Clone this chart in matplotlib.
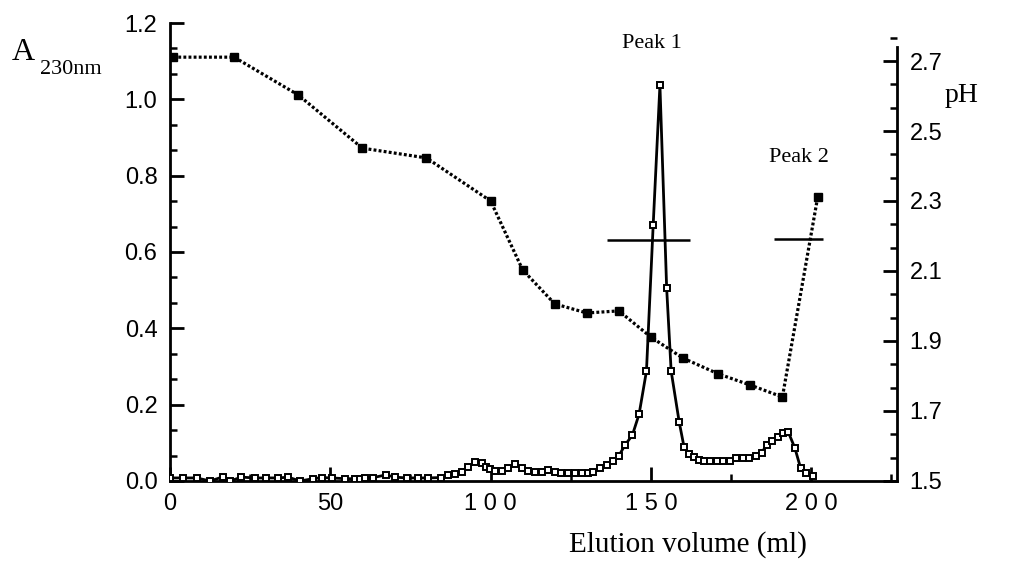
import matplotlib.pyplot as plt
from matplotlib.ticker import MultipleLocator, AutoMinorLocator

# absorbance at 230 nm (open squares, solid line)
vol_abs = [0, 4.2, 8.3, 12.5, 16.6, 18.7, 22.3, 26.5, 30.1, 33.8, 36.9, 40.5,
           44.7, 47.3, 50.4, 54.6, 57.7, 59.2, 60.8, 63.4, 67.4, 70.2, 73.8,
           77.4, 80.5, 84.5, 86.8, 88.9, 91.0, 93.0, 95.1, 97.2, 98.7, 99.8,
           101.3, 103.4, 105.5, 107.6, 109.7, 111.7, 113.8, 115.9, 118.0,
           120.0, 122.1, 124.2, 126.3, 128.4, 130.4, 132.0, 134.1, 136.2,
           138.2, 140.0, 141.9, 144.2, 146.3, 148.6, 150.7, 152.8, 154.9,
           156.3, 158.8, 160.3, 161.8, 163.4, 164.9, 166.4, 168.4, 170.5,
           172.5, 174.6, 176.5, 178.6, 180.6, 182.7, 184.5, 186.1, 187.9,
           189.7, 191.2, 192.8, 194.9, 196.7, 198.5, 200.6]
a230 = [0.008, 0.008, 0.008, 0.0, 0.011, 0.0, 0.01, 0.008, 0.008, 0.008, 0.01,
        0.0, 0.006, 0.009, 0.008, 0.006, 0.006, 0.006, 0.007, 0.009, 0.016,
        0.01, 0.008, 0.008, 0.008, 0.009, 0.015, 0.018, 0.024, 0.036, 0.051,
        0.046, 0.037, 0.031, 0.026, 0.027, 0.033, 0.044, 0.035, 0.027, 0.024,
        0.024, 0.030, 0.024, 0.022, 0.022, 0.022, 0.022, 0.022, 0.024, 0.033,
        0.042, 0.052, 0.066, 0.094, 0.12, 0.175, 0.288, 0.671, 1.037, 0.505,
        0.288, 0.155, 0.09, 0.072, 0.062, 0.055, 0.052, 0.052, 0.052, 0.052,
        0.052, 0.059, 0.059, 0.059, 0.066, 0.074, 0.094, 0.106, 0.116, 0.125,
        0.129, 0.086, 0.033, 0.022, 0.013]

# pH of the fractions (filled squares, dotted line)
vol_ph = [1, 20, 40, 60, 80, 100, 110, 120, 130, 140, 150, 160, 171, 181, 191, 202]
ph = [2.711, 2.711, 2.603, 2.451, 2.423, 2.300, 2.103, 2.006, 1.980, 1.986,
      1.911, 1.851, 1.806, 1.774, 1.740, 2.311]

# pooled fractions (horizontal bars) : start, end, level
pool_start = [136.3, 188.3]
pool_end = [162.1, 203.6]
pool_level = [0.632, 0.633]
peak_names = ['Peak 1', 'Peak 2']

sans = 'Liberation Sans'
serif = 'Liberation Serif'

fig = plt.figure(figsize=(10.1, 5.64), dpi=100)
ax = fig.add_axes([0.1683, 0.1472, 0.7197, 0.812])
ax2 = ax.twinx()

ax.plot(vol_abs, a230, color='black', lw=2.0, marker='s', ms=5.0,
        mfc='white', mec='black', mew=1.4, zorder=3)
ax.hlines(pool_level, pool_start, pool_end, color='black', lw=1.8)

ax2.plot(vol_ph, ph, color='black', lw=2.3, ls=(0, (0.9, 0.7)), marker='s',
         ms=6, mfc='black', mec='black', zorder=4)

ax.set_xlim(0, 226.7)
ax.set_ylim(0, 1.2)
ax2.set_ylim(1.5, 1.5 + 458 / 350)

ax.xaxis.set_major_locator(MultipleLocator(50))
ax.xaxis.set_minor_locator(MultipleLocator(25))
ax.yaxis.set_major_locator(MultipleLocator(0.2))
ax.yaxis.set_minor_locator(AutoMinorLocator(3))
ax2.yaxis.set_major_locator(MultipleLocator(0.2))
ax2.yaxis.set_minor_locator(AutoMinorLocator(3))

ax.set_xticks([0, 50, 100, 150, 200])
ax.set_xticklabels(['0', '50', '1 0 0', '1 5 0', '2 0 0'])
ax.set_yticks([0, 0.2, 0.4, 0.6, 0.8, 1.0, 1.2])
ax.set_yticklabels(['0.0', '0.2', '0.4', '0.6', '0.8', '1.0', '1.2'])
ax2.set_yticks([1.5, 1.7, 1.9, 2.1, 2.3, 2.5, 2.7])
ax2.set_yticklabels(['1.5', '1.7', '1.9', '2.1', '2.3', '2.5', '2.7'])

for a in (ax, ax2):
    a.spines['top'].set_visible(False)
    for s in a.spines.values():
        s.set_linewidth(2.0)
    a.tick_params(which='major', direction='in', length=10, width=2.0,
                  labelsize=17, pad=9)
    a.tick_params(which='minor', direction='in', length=5, width=1.8)
    for lab in a.get_xticklabels() + a.get_yticklabels():
        lab.set_fontfamily(sans)
ax2.spines['left'].set_visible(False)
ax2.spines['bottom'].set_visible(False)
ax2.spines['right'].set_bounds(1.5, 2.74)
ax.spines['right'].set_visible(False)

# axis titles
fig.text(12 / 1010, 1 - 60 / 564, 'A', family=serif, fontsize=23, va='baseline')
fig.text(40 / 1010, 1 - 74 / 564, '230nm', family=serif, fontsize=16, va='baseline')
fig.text(962 / 1010, 1 - 95 / 564, 'pH', family=serif, fontsize=20,
         ha='center', va='center')
fig.text(688 / 1010, 1 - 545 / 564, 'Elution volume (ml)', family=serif,
         fontsize=21, ha='center', va='center')

# peak labels
fig.text(652 / 1010, 1 - 43 / 564, peak_names[0], family=serif, fontsize=16,
         ha='center', va='center')
fig.text(799 / 1010, 1 - 157 / 564, peak_names[1], family=serif, fontsize=16,
         ha='center', va='center')

fig.savefig('out.png', dpi=100)
